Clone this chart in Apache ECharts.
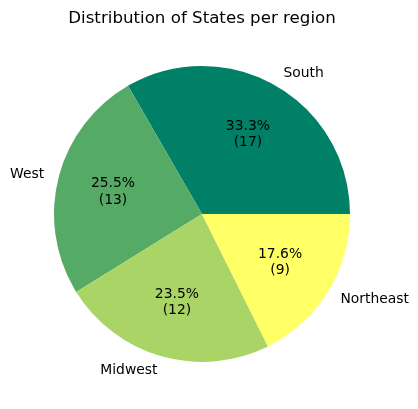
<!DOCTYPE html>
<html><head><meta charset="utf-8">
<script src="https://cdn.jsdelivr.net/npm/echarts@6/dist/echarts.min.js"></script>
<style>html,body{margin:0;padding:0;background:#fff}#c{width:418px;height:409px}</style>
</head><body><div id="c"></div>
<script>
const categories = ['South', 'West', 'Midwest', 'Northeast'];
const values = [17, 13, 12, 9];
const colors = ['#008066', '#55aa66', '#aad466', '#ffff66'];
const titleText = 'Distribution of States per region';

const total = values.reduce((a, b) => a + b, 0);
const data = categories.map((c, i) => ({ name: c, value: values[i], itemStyle: { color: colors[i] } }));
const R = 148;
const font = 'DejaVu Sans';
const chart = echarts.init(document.getElementById('c'), null, { renderer: 'canvas' });
chart.setOption({
  animation: false,
  title: {
    text: titleText, left: 197, top: 5, textAlign: 'center',
    textStyle: { fontFamily: font, fontSize: 16.67, fontWeight: 'normal', color: '#000' }
  },
  series: [
    {
      type: 'pie', center: [202, 214], radius: [0, R], startAngle: 0, clockwise: false,
      avoidLabelOverlap: false, silent: true, data: data,
      itemStyle: { borderWidth: 0 },
      label: {
        show: true, position: 'outside', formatter: '{b}', distanceToLabelLine: 0,
        fontFamily: font, fontSize: 13.89, color: '#000', alignTo: 'none'
      },
      labelLine: { show: false, length: R * 0.1, length2: 0 },
      emphasis: { disabled: true }
    },
    {
      type: 'pie', center: [202, 214], radius: [R * 0.2, R], startAngle: 0, clockwise: false,
      avoidLabelOverlap: false, silent: true,
      data: categories.map((c, i) => ({ name: c, value: values[i] })),
      itemStyle: { color: 'rgba(0,0,0,0)', borderWidth: 0 },
      label: {
        show: true, position: 'inside',
        formatter: p => (p.value / total * 100).toFixed(1) + '%\n(' + p.value + ')',
        fontFamily: font, fontSize: 13.89, color: '#000', lineHeight: 16.7, align: 'center'
      },
      labelLine: { show: false },
      emphasis: { disabled: true }
    }
  ]
});
</script></body></html>
